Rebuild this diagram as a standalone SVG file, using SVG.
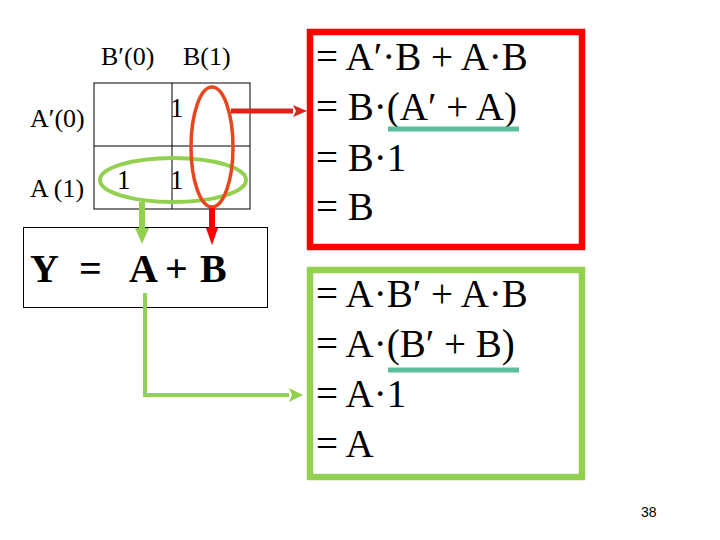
<svg xmlns="http://www.w3.org/2000/svg" width="720" height="540" viewBox="0 0 720 540">
  <style>
    .serif { font-family: "Liberation Serif", "Times New Roman", serif; fill: #000; }
    .lbl { font-size: 26px; }
    .cell { font-size: 27px; }
    .eq { font-size: 39px; }
    .ybig { font-size: 40px; font-weight: bold; }
    .grid { fill: none; stroke: #000; stroke-width: 1; }
    .under { stroke: #5CBF9B; stroke-width: 5; }
  </style>
  <defs>
    <marker id="headRed" markerUnits="userSpaceOnUse" viewBox="0 0 14 12" markerWidth="14" markerHeight="12" refX="0" refY="6" orient="auto">
      <path d="M0,0 L14,6 L0,12 L3,6 z" fill="#D9261C"/>
    </marker>
    <marker id="headRedV" markerUnits="userSpaceOnUse" viewBox="0 0 17 12" markerWidth="17" markerHeight="12" refX="0" refY="6" orient="auto">
      <path d="M0,0 L17,6 L0,12 z" fill="#FF0000"/>
    </marker>
    <marker id="headGreenV" markerUnits="userSpaceOnUse" viewBox="0 0 16 14" markerWidth="16" markerHeight="14" refX="0" refY="7" orient="auto">
      <path d="M0,0 L16,7 L0,14 z" fill="#92D050"/>
    </marker>
    <marker id="headGreen" markerUnits="userSpaceOnUse" viewBox="0 0 14 14" markerWidth="14" markerHeight="14" refX="0" refY="7" orient="auto">
      <path d="M0,0 L14,7 L0,14 L3,7 z" fill="#92D050"/>
    </marker>
  </defs>
  <rect width="720" height="540" fill="#fff"/>

  <g id="kmap">
    <text class="serif lbl" x="101" y="65">B′(0)</text>
    <text class="serif lbl" x="183" y="65">B(1)</text>
    <text class="serif lbl" x="30" y="127">A′(0)</text>
    <text class="serif lbl" x="30" y="197">A (1)</text>
    <rect class="grid" x="94" y="83" width="156" height="126"/>
    <line class="grid" x1="172" y1="83" x2="172" y2="209"/>
    <line class="grid" x1="94" y1="146" x2="250" y2="146"/>
    <text class="serif cell" x="170" y="117">1</text>
    <text class="serif cell" x="117" y="189">1</text>
    <text class="serif cell" x="170" y="189">1</text>
  </g>

  <g id="group-A">
    <ellipse cx="173" cy="180" rx="73" ry="22" fill="none" stroke="#92D050" stroke-width="4"/>
  </g>
  <g id="group-B">
    <ellipse cx="212" cy="147" rx="21" ry="60" fill="none" stroke="#E8461E" stroke-width="3.5"/>
  </g>

  <g id="result">
    <rect x="23.5" y="227.5" width="244" height="80" fill="#fff" stroke="#000" stroke-width="1"/>
    <text class="serif ybig" x="30" y="282">Y</text>
    <text class="serif ybig" x="79" y="282">=</text>
    <text class="serif ybig" x="129" y="282">A</text>
    <text class="serif ybig" x="165" y="282">+</text>
    <text class="serif ybig" x="200" y="282">B</text>
  </g>

  <g id="derivation-B">
    <rect x="310" y="32" width="272" height="215" fill="none" stroke="#FF0000" stroke-width="6.5"/>
    <text class="serif eq" x="316" y="70">= A′·B + A·B</text>
    <text class="serif eq" x="316" y="120">= B·(A′ + A)</text>
    <line class="under" x1="388" y1="129" x2="519" y2="129"/>
    <text class="serif eq" x="316" y="171">= B·1</text>
    <text class="serif eq" x="316" y="220">= B</text>
  </g>

  <g id="derivation-A">
    <rect x="310" y="270" width="272" height="207" fill="none" stroke="#92D050" stroke-width="6.5"/>
    <text class="serif eq" x="316" y="307">= A·B′ + A·B</text>
    <text class="serif eq" x="316" y="357">= A·(B′ + B)</text>
    <line class="under" x1="388" y1="370" x2="519" y2="370"/>
    <text class="serif eq" x="316" y="407">= A·1</text>
    <text class="serif eq" x="316" y="457">= A</text>
  </g>

  <g id="connectors" fill="none">
    <path d="M231,111 H293" stroke="#D9261C" stroke-width="5" marker-end="url(#headRed)"/>
    <path d="M212,208 V228" stroke="#FF0000" stroke-width="6" marker-end="url(#headRedV)"/>
    <path d="M142,202 V228" stroke="#92D050" stroke-width="6" marker-end="url(#headGreenV)"/>
    <path d="M145,293 V395 H289" stroke="#92D050" stroke-width="4" marker-end="url(#headGreen)"/>
  </g>

  <g id="page">
    <text x="641" y="517" font-family="Liberation Sans, Arial, sans-serif" font-size="14" fill="#000">38</text>
  </g>
</svg>
